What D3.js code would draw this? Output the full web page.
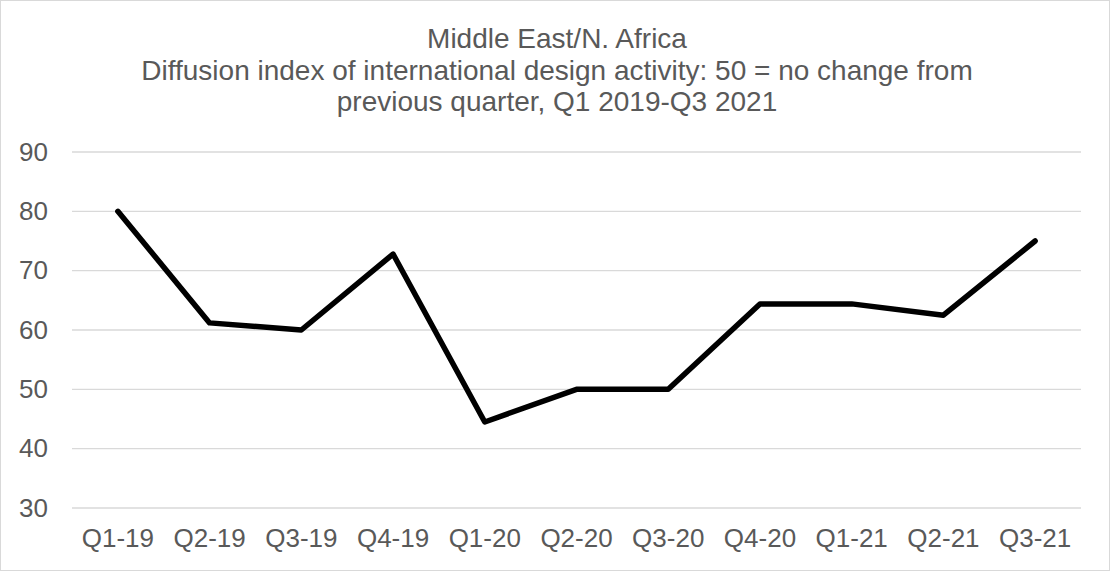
<!DOCTYPE html>
<html>
<head>
<meta charset="utf-8">
<script src="https://cdn.jsdelivr.net/npm/d3@7"></script>
<style>
html,body{margin:0;padding:0;background:#fff;}
svg{display:block;font-family:"Liberation Sans",Arial,sans-serif;}
</style>
</head>
<body>
<svg id="chart" width="1110" height="571"></svg>
<script>
const categories = ["Q1-19","Q2-19","Q3-19","Q4-19","Q1-20","Q2-20","Q3-20","Q4-20","Q1-21","Q2-21","Q3-21"];
const values = [80, 61.2, 60, 72.8, 44.5, 50, 50, 64.4, 64.4, 62.5, 75];
const yTicks = [30, 40, 50, 60, 70, 80, 90];
const titleLines = ["Middle East/N. Africa",
  "Diffusion index of international design activity: 50 = no change from",
  "previous quarter, Q1 2019-Q3 2021"];

const svg = d3.select("#chart");
const W = 1110, H = 571;
const m = {left: 72, right: 29, top: 152, bottom: 63};
const FONT = '"Liberation Sans",Arial,sans-serif';

svg.append("rect").attr("x",0.5).attr("y",0.5).attr("width",W-1).attr("height",H-1)
  .attr("fill","#fff").attr("stroke","#d9d9d9");

const x = d3.scaleBand().domain(categories).range([m.left, W - m.right]);
const y = d3.scaleLinear().domain([30, 90]).range([H - m.bottom, m.top]);

// gridlines
svg.append("g").selectAll("line").data(yTicks).join("line")
  .attr("x1", m.left).attr("x2", W - m.right)
  .attr("y1", d => y(d)).attr("y2", d => y(d))
  .attr("stroke", "#d9d9d9").attr("stroke-width", 1.3);

// y axis
const yAxis = svg.append("g").attr("transform", `translate(${m.left},0)`)
  .call(d3.axisLeft(y).tickValues(yTicks).tickSize(0).tickPadding(24));
yAxis.select(".domain").remove();
yAxis.attr("font-size", null).attr("font-family", null);
yAxis.selectAll("text").attr("font-size", 26).attr("fill", "#595959")
  .attr("font-family", FONT);

// x axis
const xAxis = svg.append("g").attr("transform", `translate(0,${H - m.bottom})`)
  .call(d3.axisBottom(x).tickSize(0).tickPadding(21));
xAxis.select(".domain").remove();
xAxis.attr("font-size", null).attr("font-family", null);
xAxis.selectAll("text").attr("font-size", 26).attr("fill", "#595959")
  .attr("font-family", FONT);

// line
const line = d3.line()
  .x((d, i) => x(categories[i]) + x.bandwidth() / 2)
  .y(d => y(d));
svg.append("path").datum(values)
  .attr("d", line).attr("fill", "none")
  .attr("stroke", "#000").attr("stroke-width", 5.5)
  .attr("stroke-linejoin", "round").attr("stroke-linecap", "round");

// title
svg.append("g").selectAll("text").data(titleLines).join("text")
  .attr("x", W / 2 + 2).attr("y", (d, i) => 48 + i * 31.5)
  .attr("text-anchor", "middle").attr("font-size", 28).attr("fill", "#595959")
  .attr("font-family", FONT)
  .text(d => d);
</script>
</body>
</html>
